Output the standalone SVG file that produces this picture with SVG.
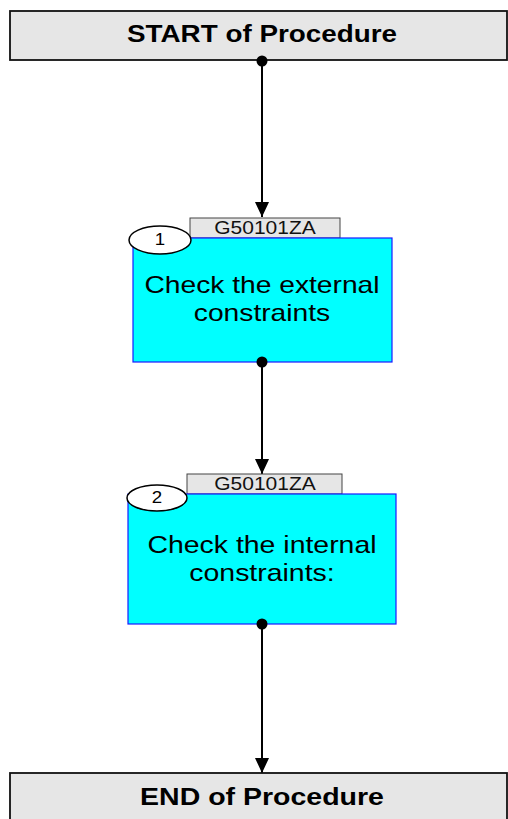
<svg xmlns="http://www.w3.org/2000/svg" width="508" height="819" viewBox="0 0 508 819">
<style>
.term{fill:#e6e6e6;stroke:#111;stroke-width:1.8}
.termt{font-family:"Liberation Sans",Arial,sans-serif;font-weight:bold;font-size:23px;fill:#000;text-anchor:middle}
.step{fill:#00ffff;stroke:#1a1aff;stroke-width:1.2}
.stept{font-family:"Liberation Sans",Arial,sans-serif;font-size:24px;fill:#000;text-anchor:middle}
.tag{fill:#e6e6e6;stroke:#444;stroke-width:1}
.tagt{font-family:"Liberation Sans",Arial,sans-serif;font-size:17.5px;fill:#111;text-anchor:middle}
.num{fill:#fff;stroke:#000;stroke-width:1.5}
.numt{font-family:"Liberation Sans",Arial,sans-serif;font-size:16px;fill:#000;text-anchor:middle}
.edge{stroke:#000;stroke-width:2;fill:none}
.dot{fill:#000}
</style>
<defs>
<marker id="arr" viewBox="0 0 15 14" refX="15" refY="7" markerWidth="15" markerHeight="14" markerUnits="userSpaceOnUse" orient="auto">
<path d="M0,0 L15,7 L0,14 Z" fill="#000"/>
</marker>
</defs>
<g id="connectors">
<line class="edge" x1="262" y1="61" x2="262" y2="217" marker-end="url(#arr)"/>
<line class="edge" x1="262" y1="362" x2="262" y2="474" marker-end="url(#arr)"/>
<line class="edge" x1="262" y1="624" x2="262" y2="773" marker-end="url(#arr)"/>
</g>
<g id="start">
<rect class="term" x="10" y="11" width="497" height="49"/>
<text class="termt" transform="translate(262,42) scale(1.21,1)" x="0" y="0">START of Procedure</text>
<circle class="dot" cx="262" cy="61" r="5.5"/>
</g>
<g id="step1">
<rect class="tag" x="190" y="218" width="150" height="20"/>
<text class="tagt" transform="translate(265,234) scale(1.2,1)" x="0" y="0">G50101ZA</text>
<rect class="step" x="133" y="238" width="259" height="124"/>
<ellipse class="num" cx="160" cy="240" rx="31" ry="14"/>
<text class="numt" transform="translate(160,245) scale(1.17,1)" x="0" y="0">1</text>
<text class="stept" transform="translate(262,293) scale(1.175,1)" x="0" y="0">Check the external</text>
<text class="stept" transform="translate(262,321) scale(1.175,1)" x="0" y="0">constraints</text>
<circle class="dot" cx="262" cy="362" r="5.5"/>
</g>
<g id="step2">
<rect class="tag" x="187" y="474" width="155" height="20"/>
<text class="tagt" transform="translate(265,490) scale(1.2,1)" x="0" y="0">G50101ZA</text>
<rect class="step" x="128" y="494" width="268" height="130"/>
<ellipse class="num" cx="157" cy="498" rx="30" ry="13"/>
<text class="numt" transform="translate(157,503) scale(1.17,1)" x="0" y="0">2</text>
<text class="stept" transform="translate(262,553) scale(1.185,1)" x="0" y="0">Check the internal</text>
<text class="stept" transform="translate(262,581) scale(1.185,1)" x="0" y="0">constraints:</text>
<circle class="dot" cx="262" cy="624" r="5.5"/>
</g>
<g id="end">
<rect class="term" x="10" y="773" width="497" height="60"/>
<text class="termt" transform="translate(262,805) scale(1.24,1)" x="0" y="0">END of Procedure</text>
</g>
</svg>
